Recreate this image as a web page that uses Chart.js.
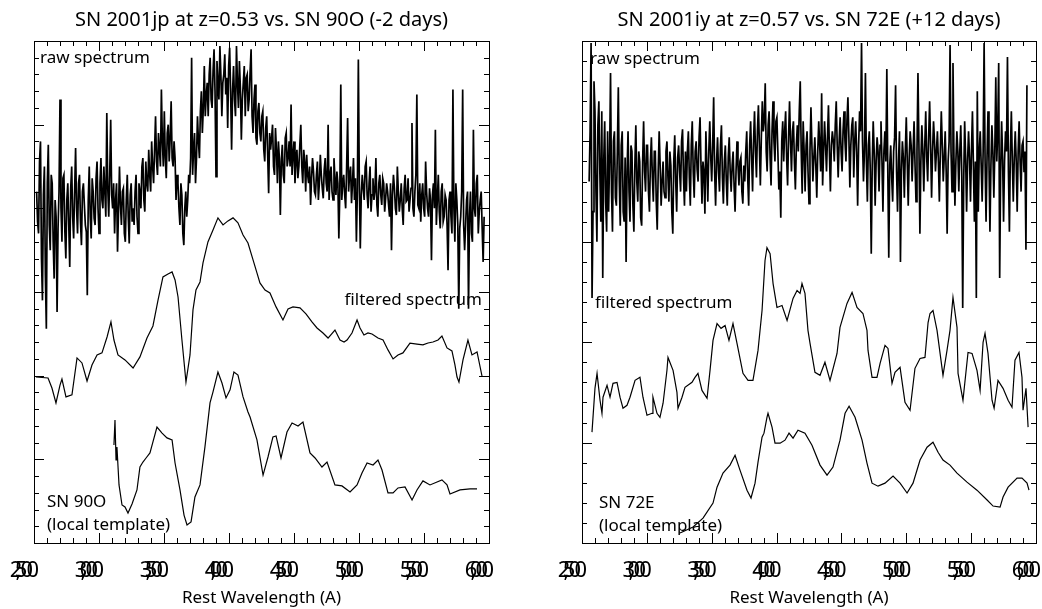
<!DOCTYPE html>
<html>
<head>
<meta charset="utf-8">
<script src="https://cdn.jsdelivr.net/npm/chart.js@4.4.0/dist/chart.umd.min.js"></script>
<style>
  html, body { margin: 0; padding: 0; background: #fff; }
  #wrapLeft { position: absolute; left: 0; top: 0; }
  #wrapRight { position: absolute; left: 541px; top: 0; }
</style>
</head>
<body>
<div id="wrapLeft"><canvas id="leftChart" width="521" height="609"></canvas></div>
<div id="wrapRight"><canvas id="rightChart" width="501" height="609"></canvas></div>
<script>
// raw spectra are on a regular 7.5 A grid
const rawStep = 7.5;

// SN 2001jp (left panel)
const leftRawStart = 2520;
const leftRawFlux = [
  21.0, 19.2, 18.5, 22.8, 24.0, 17.0, 14.5, 20.8, 22.5, 16.0, 12.8, 21.5, 23.8, 19.0, 17.5, 22.0, 21.5, 18.0, 15.8, 20.5,
  19.5, 13.8, 18.8, 21.0, 26.5, 20.0, 18.0, 21.8, 22.0, 18.6, 17.0, 20.5, 21.5, 19.0, 16.5, 21.2, 22.5, 19.5, 18.2, 21.0,
  23.6, 20.0, 18.5, 21.5, 22.0, 19.2, 17.8, 21.0, 21.5, 20.2, 19.0, 18.6, 14.8, 20.5, 22.5, 19.5, 18.2, 21.8, 21.0, 19.4,
  19.0, 21.8, 22.8, 20.0, 18.5, 21.5, 23.0, 20.5, 20.0, 22.5, 21.0, 19.5, 25.7, 21.2, 19.5, 22.0, 25.3, 20.8, 20.0, 21.5,
  18.5, 20.5, 21.5, 17.4, 19.8, 22.5, 20.2, 19.0, 21.0, 21.2, 18.5, 18.0, 20.5, 22.0, 19.5, 17.9, 20.8, 21.5, 19.2, 20.0,
  19.0, 21.0, 22.0, 19.5, 18.5, 21.5, 21.0, 20.0, 22.5, 23.0, 20.5, 19.8, 22.8, 21.5, 21.0, 23.5, 22.0, 21.0, 24.0, 22.5,
  21.5, 23.5, 25.5, 22.8, 22.0, 24.5, 23.5, 22.5, 27.1, 24.0, 22.5, 25.8, 23.0, 21.8, 24.5, 25.0, 22.8, 24.2, 26.4, 23.0,
  22.5, 24.0, 23.0, 20.5, 22.0, 21.5, 20.0, 19.0, 21.5, 20.8, 18.5, 17.8, 20.0, 21.0, 19.5, 20.5, 22.0, 21.5, 23.0, 29.0,
  22.0, 23.5, 24.5, 21.5, 23.0, 25.5, 24.0, 23.0, 25.8, 27.0, 24.5, 26.0, 28.5, 25.5, 26.8, 27.5, 25.5, 28.0, 29.0, 26.5,
  26.0, 28.2, 29.5, 27.0, 21.9, 28.8, 27.5, 26.5, 29.7, 28.0, 25.5, 27.5, 28.0, 29.2, 26.8, 27.8, 24.8, 28.5, 29.6, 27.0,
  23.5, 27.0, 28.5, 26.5, 25.5, 29.7, 27.5, 26.0, 28.8, 27.2, 24.1, 26.5, 27.5, 28.5, 25.5, 27.8, 28.0, 25.8, 26.5, 28.2,
  29.5, 25.5, 24.5, 26.5, 27.4, 24.2, 23.8, 25.8, 26.3, 24.5, 24.0, 25.5, 25.8, 23.5, 22.8, 24.8, 25.5, 23.2, 20.9, 24.5,
  23.5, 24.2, 25.0, 22.5, 22.0, 24.8, 23.5, 21.5, 24.0, 23.0, 19.6, 22.8, 23.8, 22.0, 21.5, 24.2, 24.5, 22.5, 23.0, 24.0,
  22.5, 26.2, 22.0, 23.2, 24.0, 21.5, 22.8, 23.5, 21.8, 22.5, 23.8, 25.0, 22.5, 21.5, 23.5, 22.8, 21.0, 23.2, 22.0, 21.5,
  22.5, 20.2, 21.8, 23.0, 22.2, 21.0, 20.8, 22.0, 22.8, 20.5, 21.5, 23.2, 22.0, 21.2, 20.6, 22.3, 23.0, 21.5, 21.0, 25.0,
  20.5, 22.0, 22.5, 21.0, 20.5, 23.0, 21.8, 20.8, 22.2, 21.5, 18.2, 21.0, 27.4, 20.5, 21.5, 22.0, 20.8, 20.0, 22.5, 25.4,
  21.0, 22.0, 22.5, 20.3, 21.5, 23.0, 20.5, 21.8, 18.0, 21.0, 28.9, 21.5, 17.6, 20.8, 22.0, 21.2, 20.5, 22.5, 22.8, 20.8,
  20.0, 21.5, 22.5, 19.8, 20.8, 21.8, 20.5, 21.0, 23.0, 20.2, 19.5, 21.5, 22.0, 20.8, 20.2, 21.8, 21.5, 19.8, 20.6, 21.5,
  21.0, 20.2, 19.5, 21.5, 17.5, 20.8, 22.0, 21.2, 20.0, 19.6, 22.5, 21.0, 19.8, 20.5, 21.5, 20.0, 19.0, 21.2, 22.0, 20.4,
  20.5, 21.8, 19.8, 20.5, 21.2, 25.1, 20.0, 19.5, 21.0, 22.0, 26.8, 20.2, 20.0, 21.5, 19.2, 20.8, 21.5, 20.0, 19.5, 22.8,
  21.0, 20.0, 19.5, 21.2, 20.5, 16.9, 20.8, 21.5, 20.0, 24.7, 19.0, 20.5, 22.0, 19.8, 18.8, 21.0, 21.5, 19.2, 19.5, 20.8,
  20.5, 19.0, 16.3, 20.5, 21.0, 19.5, 18.5, 27.1, 20.0, 18.0, 21.5, 20.5, 19.0, 14.0, 18.8, 19.5, 21.0, 27.1, 19.0, 17.5,
  19.0, 20.5, 21.0, 14.0, 19.5, 21.0, 18.5, 18.0, 24.7, 20.0, 19.5, 21.5, 22.0, 18.5, 19.8, 20.5, 21.0, 18.8, 16.8, 19.5
];
const leftFiltWave = [
  2515, 2608, 2638, 2669, 2700, 2715, 2746, 2792, 2831, 2869, 2908, 2946, 2985, 3023, 3062,
  3092, 3115, 3146, 3200, 3262, 3315, 3369, 3415, 3454, 3492, 3531, 3562, 3585, 3608, 3638,
  3669, 3700, 3723, 3746, 3777, 3800, 3838, 3877, 3915, 3954, 3992, 4031, 4069, 4108, 4146,
  4185, 4215, 4238, 4277, 4315, 4362, 4415, 4454, 4492, 4546, 4592, 4638, 4677, 4723, 4762,
  4815, 4854, 4885, 4908, 4946, 4985, 5008, 5038, 5069, 5100, 5146, 5185, 5223, 5262, 5300,
  5338, 5392, 5446, 5492, 5531, 5569, 5608, 5638, 5677, 5715, 5738, 5754, 5769, 5800, 5838,
  5869, 5908, 5946
];
const leftFiltFlux = [
  9.92, 9.86, 9.26, 8.37, 9.44, 9.80, 8.73, 8.85, 11.06, 10.76, 9.68, 10.64, 11.24, 11.36, 12.31,
  13.21, 12.13, 11.24, 10.94, 10.46, 11.12, 12.25, 12.97, 14.52, 15.90, 16.08, 16.20, 15.72, 14.70, 12.13,
  9.62, 11.24, 13.93, 15.12, 15.60, 16.74, 17.99, 18.71, 19.43, 19.01, 19.25, 19.43, 19.13, 18.41, 17.93,
  16.92, 16.14, 15.54, 15.12, 14.94, 14.11, 13.33, 13.99, 14.11, 14.05, 13.69, 13.21, 12.85, 12.55, 12.25,
  12.73, 12.13, 12.01, 12.13, 12.55, 13.33, 12.85, 12.43, 12.55, 12.49, 12.25, 12.13, 11.54, 11.00, 11.24,
  11.36, 11.95, 11.89, 11.84, 11.95, 12.01, 12.13, 12.37, 11.66, 11.48, 10.64, 9.92, 9.62, 10.94, 12.13,
  11.24, 11.42, 9.98
];
const leftTmplWave = [
  3115, 3123, 3131, 3138, 3154, 3177, 3200, 3223, 3254, 3292, 3315, 3338, 3362, 3392, 3415,
  3446, 3485, 3523, 3562, 3585, 3623, 3654, 3677, 3708, 3738, 3777, 3815, 3854, 3877, 3915,
  3946, 3977, 4008, 4038, 4069, 4108, 4146, 4162, 4215, 4262, 4300, 4338, 4362, 4400, 4446,
  4485, 4531, 4569, 4623, 4662, 4715, 4754, 4815, 4869, 4931, 4985, 5023, 5062, 5108, 5146,
  5177, 5223, 5262, 5300, 5354, 5408, 5446, 5492, 5546, 5638, 5677, 5700, 5777, 5854, 5908
];
const leftTmplFlux = [
  5.86, 7.35, 4.96, 5.74, 3.47, 2.27, 2.15, 1.79, 2.33, 3.17, 4.54, 4.84, 5.08, 5.38, 6.04,
  6.93, 6.57, 6.28, 6.16, 4.78, 3.17, 1.67, 1.08, 1.26, 2.75, 3.47, 5.74, 8.37, 9.03, 10.22,
  9.56, 8.67, 9.15, 10.22, 10.04, 8.73, 7.83, 7.53, 6.16, 4.06, 5.14, 6.34, 6.40, 5.08, 6.63,
  7.17, 6.99, 7.23, 5.38, 5.08, 4.54, 4.84, 3.47, 3.41, 3.05, 3.47, 4.18, 4.78, 4.66, 4.96,
  4.36, 2.99, 2.99, 3.29, 3.35, 2.57, 3.17, 3.71, 3.47, 3.77, 3.47, 2.93, 3.17, 3.23, 3.23
];

// SN 2001iy (right panel)
const rightRawStart = 2555;
const rightRawFlux = [
  18.0, 20.5, 24.9, 12.2, 16.5, 23.0, 21.5, 17.5, 15.0, 20.8, 22.0, 18.5, 16.0, 21.5, 13.2, 19.0, 21.0, 17.0, 15.5, 20.5,
  16.5, 19.0, 23.4, 17.5, 15.5, 20.0, 20.5, 17.2, 16.8, 19.5, 22.7, 18.0, 15.8, 19.8, 20.5, 16.5, 16.0, 19.2, 14.0, 18.5,
  20.5, 17.5, 16.0, 19.8, 19.5, 16.8, 15.5, 18.8, 20.8, 18.0, 17.0, 19.5, 19.0, 16.2, 15.8, 19.0, 21.0, 18.5, 17.5, 19.8,
  19.8, 17.5, 16.5, 19.0, 20.2, 18.2, 17.0, 19.5, 19.5, 17.0, 15.6, 18.5, 20.5, 18.8, 16.8, 18.0, 19.0, 17.5, 17.2, 19.5,
  20.0, 18.2, 17.0, 19.5, 18.8, 16.5, 15.4, 19.0, 20.3, 18.0, 16.5, 19.2, 19.8, 18.5, 17.5, 20.0, 20.6, 18.2, 16.8, 19.5,
  17.5, 19.5, 20.5, 18.2, 16.8, 19.8, 21.0, 18.5, 17.2, 19.5, 20.0, 18.6, 18.0, 20.2, 21.2, 18.8, 16.9, 19.0, 18.5, 16.4,
  20.5, 18.8, 17.0, 19.5, 21.0, 19.2, 18.0, 19.8, 22.2, 18.5, 16.8, 19.0, 20.2, 18.5, 17.5, 19.8, 20.8, 18.2, 16.9, 19.0,
  19.8, 18.0, 16.8, 19.2, 20.2, 18.5, 17.5, 18.8, 19.5, 17.8, 16.5, 18.5, 20.0, 18.8, 17.8, 19.0, 19.2, 17.5, 16.9, 18.8,
  18.0, 19.5, 20.5, 18.2, 16.8, 19.8, 21.0, 19.2, 17.5, 20.0, 21.5, 19.5, 18.2, 20.5, 21.8, 19.8, 17.8, 20.2, 22.0, 20.5,
  21.0, 22.9, 19.5, 18.5, 20.8, 21.5, 19.2, 17.8, 20.5, 22.0, 20.0, 19.0, 21.0, 21.2, 19.5, 17.6, 18.5, 16.2, 20.0, 21.0,
  19.0, 20.5, 21.5, 19.2, 17.8, 20.2, 22.0, 20.0, 18.5, 20.5, 21.0, 19.0, 17.6, 19.8, 20.8, 19.5, 21.5, 23.0, 19.5, 17.4,
  21.0, 19.5, 17.5, 19.8, 20.5, 18.5, 16.9, 19.5, 21.7, 19.8, 18.0, 19.2, 20.2, 18.8, 17.2, 19.5, 21.0, 19.8, 18.5, 22.4,
  17.8, 19.5, 21.0, 19.8, 18.5, 20.2, 21.8, 19.5, 17.5, 19.8, 20.5, 20.0, 19.0, 20.8, 22.0, 19.8, 18.2, 20.0, 21.2, 19.5,
  18.5, 20.5, 21.5, 20.0, 19.0, 21.0, 22.2, 20.2, 17.7, 19.8, 20.8, 21.2, 18.2, 20.0, 21.0, 19.5, 16.8, 19.8, 21.5, 20.5,
  24.9, 20.0, 18.0, 19.5, 23.4, 19.0, 17.0, 19.8, 20.5, 18.5, 14.4, 18.8, 21.0, 19.5, 16.8, 19.0, 20.2, 19.5, 17.5, 19.8,
  21.0, 19.0, 16.5, 19.5, 20.5, 19.0, 23.6, 18.5, 14.2, 18.8, 19.8, 18.2, 17.0, 19.5, 20.2, 22.8, 18.5, 16.5, 19.0, 20.5,
  14.0, 18.5, 20.0, 19.2, 17.2, 19.5, 21.2, 19.0, 16.8, 19.2, 20.5, 19.8, 18.0, 19.5, 21.0, 18.8, 17.0, 19.5, 23.4, 19.8,
  15.4, 19.0, 20.8, 19.5, 17.5, 19.8, 21.5, 19.2, 18.0, 20.2, 22.0, 19.8, 17.2, 19.5, 21.0, 20.0, 18.5, 19.5, 20.5, 19.0,
  17.0, 19.5, 21.5, 19.8, 18.0, 19.2, 20.5, 18.5, 15.4, 19.0, 20.0, 24.8, 19.5, 17.5, 23.9, 19.2, 16.8, 19.0, 20.5, 19.5,
  17.5, 19.5, 20.8, 18.5, 11.7, 18.0, 21.0, 19.2, 16.5, 19.0, 20.5, 19.2, 17.0, 19.5, 21.5, 18.8, 16.0, 19.0, 12.2, 22.5,
  16.5, 19.5, 20.5, 18.8, 17.0, 19.5, 24.9, 19.0, 16.0, 19.2, 21.5, 19.0, 15.5, 18.8, 20.8, 19.5, 17.2, 19.5, 23.2, 19.0,
  20.5, 23.9, 13.2, 18.5, 21.0, 19.2, 16.0, 19.0, 20.5, 19.5, 24.2, 18.5, 15.5, 19.5, 21.5, 19.0, 17.0, 19.2, 20.5, 19.0,
  16.5, 19.5, 21.0, 19.0, 17.5, 19.8, 20.0, 18.5, 19.5, 14.6, 22.8
];
const rightFiltWave = [
  2577, 2600, 2616, 2639, 2654, 2662, 2693, 2716, 2739, 2770, 2793, 2816, 2847, 2870, 2909,
  2947, 2970, 3001, 3040, 3047, 3078, 3101, 3125, 3155, 3163, 3202, 3232, 3240, 3271, 3294,
  3348, 3371, 3394, 3425, 3464, 3487, 3510, 3541, 3572, 3603, 3633, 3664, 3695, 3741, 3780,
  3818, 3857, 3888, 3911, 3926, 3950, 3973, 4003, 4042, 4081, 4127, 4158, 4181, 4196, 4219,
  4242, 4258, 4296, 4335, 4373, 4412, 4466, 4489, 4543, 4582, 4620, 4666, 4697, 4705, 4736,
  4774, 4798, 4836, 4859, 4890, 4913, 4952, 4990, 5029, 5067, 5106, 5144, 5168, 5183, 5206,
  5237, 5283, 5314, 5337, 5360, 5391, 5399, 5437, 5476, 5507, 5545, 5569, 5592, 5607, 5630,
  5661, 5677, 5707, 5746, 5785, 5815, 5838, 5869, 5892, 5900, 5923, 5939
];
const rightFiltFlux = [
  5.52, 7.70, 8.45, 7.11, 6.46, 7.26, 7.85, 7.26, 7.95, 8.00, 7.26, 6.71, 6.86, 7.26, 8.10,
  8.25, 7.26, 6.36, 6.46, 7.26, 6.46, 6.26, 6.96, 8.60, 9.24, 8.60, 7.50, 6.71, 7.26, 7.75,
  8.00, 8.25, 8.45, 7.60, 7.21, 8.60, 10.09, 10.93, 10.69, 10.83, 10.09, 10.93, 9.94, 8.45, 8.10,
  8.10, 9.59, 11.58, 14.07, 14.71, 14.41, 12.92, 11.73, 11.83, 11.08, 12.18, 12.57, 12.43, 12.92, 12.43,
  10.59, 9.94, 8.50, 8.35, 9.00, 8.10, 9.44, 10.74, 11.93, 12.48, 11.73, 11.43, 10.59, 9.59, 8.25,
  8.25, 8.95, 9.84, 9.69, 7.95, 8.50, 8.75, 7.01, 6.61, 8.70, 9.19, 9.24, 10.98, 11.43, 11.58,
  10.59, 8.35, 9.59, 10.59, 12.23, 10.74, 8.45, 7.11, 9.49, 9.44, 8.60, 7.60, 9.99, 10.44, 9.44,
  7.11, 6.71, 8.10, 7.70, 7.11, 6.76, 9.10, 9.49, 8.25, 6.61, 7.70, 5.77
];
const rightTmplWave = [
  3256, 3356, 3433, 3510, 3541, 3587, 3641, 3680, 3718, 3772, 3803, 3834, 3857, 3888, 3903,
  3926, 3934, 3965, 3988, 4027, 4065, 4096, 4127, 4165, 4219, 4273, 4335, 4389, 4435, 4489,
  4528, 4559, 4605, 4659, 4697, 4736, 4782, 4836, 4898, 4952, 5006, 5052, 5106, 5160, 5206,
  5245, 5283, 5337, 5391, 5468, 5545, 5623, 5669, 5723, 5746, 5785, 5854, 5892, 5931, 5946
];
const rightTmplFlux = [
  0.50, 0.80, 1.24, 1.99, 2.78, 3.48, 3.88, 4.37, 3.63, 2.63, 2.24, 2.98, 4.03, 5.27, 5.47,
  6.26, 6.46, 5.77, 4.97, 4.97, 5.12, 5.47, 5.22, 5.62, 5.47, 4.87, 3.88, 3.38, 3.78, 5.12,
  6.46, 6.81, 6.26, 5.12, 3.98, 2.98, 2.83, 2.98, 3.33, 2.98, 2.49, 2.98, 4.13, 4.77, 5.02,
  4.52, 4.13, 3.88, 3.48, 3.03, 2.63, 2.14, 1.84, 1.79, 2.29, 2.78, 3.23, 3.23, 2.98, 2.63
];

const fontFamily = '"Noto Sans", "DejaVu Sans", sans-serif';

const gridPoints = (start, flux) => flux.map((v, i) => ({ x: start + i * rawStep, y: v }));
const pairPoints = (waves, flux) => flux.map((v, i) => ({ x: waves[i], y: v }));

const lineSet = (points, width) => ({
    data: points,
    borderColor: '#000',
    borderWidth: width,
    pointRadius: 0,
    tension: 0,
    fill: false
});

// inward tick marks on all four sides + the text notes inside the box
const frameTicks = {
    id: 'frameTicks',
    afterDatasetsDraw(chart) {
        // squeezed digits on the wavelength axis
        chart.ctx.letterSpacing = '-6.7px';
    },
    afterDraw(chart, args, opts) {
        const ctx = chart.ctx;
        ctx.letterSpacing = '0px';
        const { left, right, top, bottom } = chart.chartArea;
        const xs = chart.scales.x2;
        const ys = chart.scales.y;
        ctx.save();
        ctx.strokeStyle = '#000';
        ctx.lineWidth = 1;
        ctx.beginPath();
        xs.ticks.forEach(t => {
            const px = Math.round(xs.getPixelForValue(t.value)) + 0.5;
            const len = t.value % 500 === 0 ? 10 : 5;
            ctx.moveTo(px, bottom); ctx.lineTo(px, bottom - len);
            ctx.moveTo(px, top); ctx.lineTo(px, top + len);
        });
        ys.ticks.forEach(t => {
            const py = Math.round(ys.getPixelForValue(t.value)) + 0.5;
            const len = t.value % 5 === 0 ? 10 : 5;
            ctx.moveTo(left, py); ctx.lineTo(left + len, py);
            ctx.moveTo(right, py); ctx.lineTo(right - len, py);
        });
        ctx.stroke();
        ctx.fillStyle = '#000';
        ctx.font = '17px ' + fontFamily;
        ctx.textBaseline = 'middle';
        opts.notes.forEach(n => {
            ctx.textAlign = n.align;
            ctx.fillText(n.text, left + n.dx, top + n.dy);
        });
        ctx.restore();
    }
};

const createPanel = (canvasId, cfg) => {
    const ctx = document.getElementById(canvasId).getContext('2d');
    return new Chart(ctx, {
        type: 'line',
        data: {
            datasets: [
                lineSet(cfg.raw, 1.7),
                lineSet(cfg.filt, 1.2),
                lineSet(cfg.tmpl, 1.2)
            ]
        },
        options: {
            responsive: false,
            animation: false,
            events: [],
            layout: { padding: cfg.padding },
            plugins: {
                legend: { display: false },
                tooltip: { enabled: false },
                title: {
                    display: true,
                    text: cfg.title,
                    color: '#000',
                    font: { family: fontFamily, size: 20, weight: 'normal' },
                    padding: { top: 8.5, bottom: 8.5 }
                },
                frameTicks: { notes: cfg.notes }
            },
            scales: {
                x: {
                    type: 'linear',
                    position: 'bottom',
                    min: 2500,
                    max: 6000,
                    ticks: {
                        stepSize: 500,
                        autoSkip: false,
                        maxRotation: 0,
                        minRotation: 0,
                        padding: 14.5,
                        labelOffset: -13,
                        color: '#000',
                        font: { family: fontFamily, size: 22 },
                        z: 1
                    },
                    grid: { display: false, drawTicks: false },
                    border: { display: true, color: '#000', width: 1 },
                    title: {
                        display: true,
                        text: 'Rest Wavelength (A)',
                        color: '#000',
                        font: { family: fontFamily, size: 17 },
                        padding: { top: 0, bottom: 1 }
                    },
                    afterFit: (s) => { s.height = 66; s.paddingLeft = 0; s.paddingRight = 0; }
                },
                x2: {
                    type: 'linear',
                    position: 'top',
                    min: 2500,
                    max: 6000,
                    ticks: { stepSize: 100, display: false },
                    grid: { display: false, drawTicks: false },
                    border: { display: true, color: '#000', width: 1 },
                    afterFit: (s) => { s.height = 0; s.paddingLeft = 0; s.paddingRight = 0; }
                },
                y: {
                    position: 'left',
                    min: 0,
                    max: cfg.yMax,
                    ticks: { stepSize: 1, display: false },
                    grid: { display: false, drawTicks: false },
                    border: { display: true, color: '#000', width: 1 },
                    afterFit: (s) => { s.width = 0; }
                },
                y2: {
                    position: 'right',
                    min: 0,
                    max: cfg.yMax,
                    ticks: { display: false },
                    grid: { display: false, drawTicks: false },
                    border: { display: true, color: '#000', width: 1 },
                    afterFit: (s) => { s.width = 0; }
                }
            }
        },
        plugins: [frameTicks]
    });
};

createPanel('leftChart', {
    title: 'SN 2001jp at z=0.53 vs. SN 90O (-2 days)',
    raw: gridPoints(leftRawStart, leftRawFlux),
    filt: pairPoints(leftFiltWave, leftFiltFlux),
    tmpl: pairPoints(leftTmplWave, leftTmplFlux),
    yMax: 30,
    padding: { left: 34, right: 32, top: 0, bottom: 0 },
    notes: [
        { text: 'raw spectrum', dx: 6, dy: 17, align: 'left' },
        { text: 'filtered spectrum', dx: 448, dy: 259, align: 'right' },
        { text: 'SN 90O', dx: 13, dy: 461, align: 'left' },
        { text: '(local template)', dx: 13, dy: 484, align: 'left' }
    ]
});

createPanel('rightChart', {
    title: 'SN 2001iy at z=0.57 vs. SN 72E (+12 days)',
    raw: gridPoints(rightRawStart, rightRawFlux),
    filt: pairPoints(rightFiltWave, rightFiltFlux),
    tmpl: pairPoints(rightTmplWave, rightTmplFlux),
    yMax: 25,
    padding: { left: 41, right: 6, top: 0, bottom: 0 },
    notes: [
        { text: 'raw spectrum', dx: 8, dy: 18, align: 'left' },
        { text: 'filtered spectrum', dx: 13, dy: 262, align: 'left' },
        { text: 'SN 72E', dx: 17, dy: 462, align: 'left' },
        { text: '(local template)', dx: 17, dy: 485, align: 'left' }
    ]
});
</script>
</body>
</html>
